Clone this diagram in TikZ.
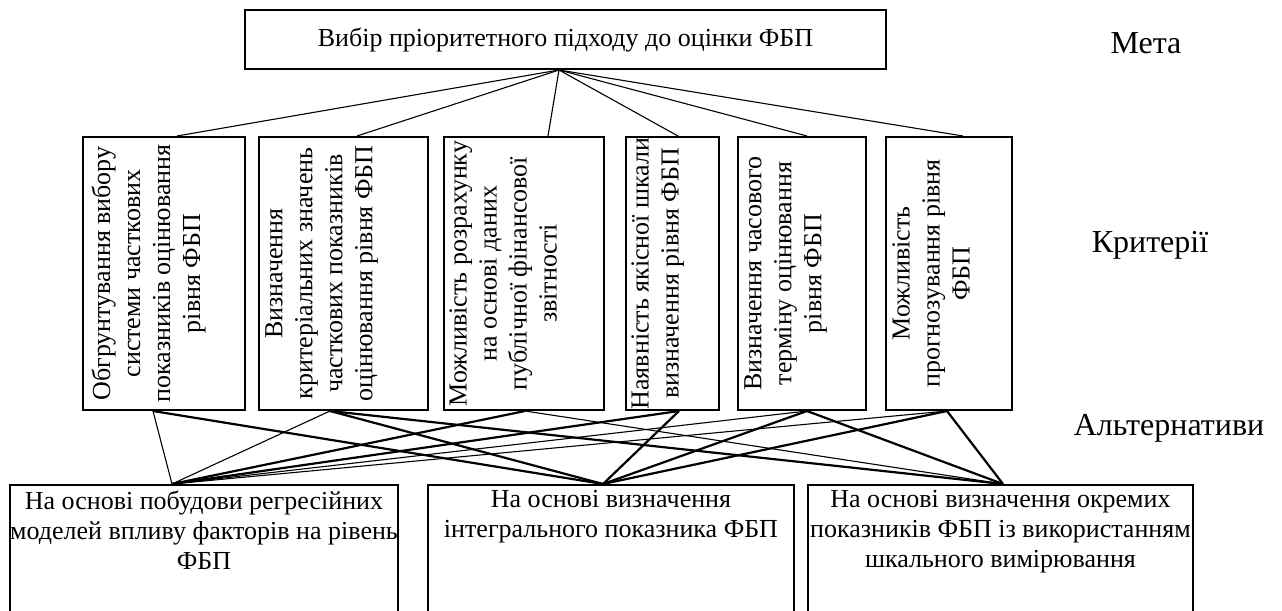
\documentclass[tikz,border=0pt]{standalone}
\usepackage{fontspec}
\setmainfont{Liberation Serif}
\begin{document}
\begin{tikzpicture}[x=0.5pt,y=-0.5pt,
  box/.style={draw, line width=1pt, inner sep=0pt},
  btxt/.style={font=\fontsize{13}{15}\selectfont, align=center, inner sep=0pt},
  lbl/.style={font=\fontsize{16}{19}\selectfont, inner sep=0pt},
  lnthin/.style={line width=0.55pt},
  lnthick/.style={line width=1.1pt}]
\useasboundingbox (0,0) rectangle (1282,611);
\clip (0,0) rectangle (1282,611);
% goal
\node[box, minimum width=320.5pt, minimum height=29.5pt, font=\fontsize{13}{15}\selectfont] (goal) at (565.5,39.5) {Вибір пріоритетного підходу до оцінки ФБП};
% criteria
\node[box, minimum width=81pt, minimum height=136.5pt] (c1) at (164,273.5) {};
\node[box, minimum width=84.5pt, minimum height=136.5pt] (c2) at (343.5,273.5) {};
\node[box, minimum width=80pt, minimum height=136.5pt] (c3) at (524,273.5) {};
\node[box, minimum width=46.5pt, minimum height=136.5pt] (c4) at (672.5,273.5) {};
\node[box, minimum width=64pt, minimum height=136.5pt] (c5) at (802,273.5) {};
\node[box, minimum width=63pt, minimum height=136.5pt] (c6) at (949,273.5) {};
\node[btxt, rotate=90, anchor=north] (t1) at ([xshift=4.5pt]c1.west) {Обгрунтування вибору\\системи часткових\\показників оцінювання\\рівня ФБП};
\node[btxt, rotate=90, anchor=north] (t2) at ([xshift=3.5pt]c2.west) {Визначення\\критеріальних значень\\часткових показників\\оцінювання рівня ФБП};
\node[btxt, rotate=90, anchor=north] (t3) at ([xshift=3pt]c3.west) {Можливість розрахунку\\на основі даних\\публічної фінансової\\звітності};
\node[btxt, rotate=90, anchor=north] (t4) at ([xshift=3pt]c4.west) {Наявність якісної шкали\\визначення рівня ФБП};
\node[btxt, rotate=90, anchor=north] (t5) at ([xshift=3.5pt]c5.west) {Визначення часового\\терміну оцінювання\\рівня ФБП};
\node[btxt, rotate=90, anchor=north] (t6) at ([xshift=3.5pt]c6.west) {Можливість\\прогнозування рівня\\ФБП};
% alternatives
\node[box, minimum width=194pt, minimum height=82.5pt] (a1) at (204,567.5) {};
\node[box, minimum width=183pt, minimum height=82.5pt] (a2) at (611,567.5) {};
\node[box, minimum width=192.5pt, minimum height=82.5pt] (a3) at (1000.5,567.5) {};
\node[btxt, anchor=north] (a1t) at ([yshift=-3pt]a1.north) {На основі побудови регресійних\\моделей впливу факторів на рівень\\ФБП};
\node[btxt, anchor=north] (a2t) at ([yshift=-3pt]a2.north) {На основі визначення\\інтегрального показника ФБП};
\node[btxt, anchor=north] (a3t) at ([yshift=-3pt]a3.north) {На основі визначення окремих\\показників ФБП із використанням\\шкального вимірювання};
% level labels
\node[lbl] (meta) at (1146,43) {Мета};
\node[lbl] (krit) at (1150,245) {Критерії};
\node[lbl] (alt) at (1169,428) {Альтернативи};
% connector points
\coordinate (gs) at ([xshift=-3.25pt]goal.south);
\coordinate (c1n) at ([xshift=6.5pt]c1.north);
\coordinate (c2n) at ([xshift=6.75pt]c2.north);
\coordinate (c3n) at ([xshift=12pt]c3.north);
\coordinate (c4n) at ([xshift=2.75pt]c4.north);
\coordinate (c5n) at ([xshift=2.5pt]c5.north);
\coordinate (c6n) at ([xshift=7pt]c6.north);
\coordinate (c1s) at ([xshift=-5.5pt]c1.south);
\coordinate (c2s) at ([xshift=-6.75pt]c2.south);
\coordinate (c3s) at ([xshift=0.5pt]c3.south);
\coordinate (c4s) at ([xshift=3.25pt]c4.south);
\coordinate (c5s) at ([xshift=2.5pt]c5.south);
\coordinate (c6s) at ([xshift=-1pt]c6.south);
\coordinate (a1n) at ([xshift=-16pt]a1.north);
\coordinate (a2n) at ([xshift=-4pt]a2.north);
\coordinate (a3n) at ([xshift=1.25pt]a3.north);
% goal to criteria
\foreach \c in {c1n,c2n,c3n,c4n,c5n,c6n} \draw[lnthin] (gs) -- (\c);
% criteria to alternatives
\draw[lnthin] (c1s) -- (a1n);
\draw[lnthin] (c2s) -- (a1n);
\draw[lnthick] (c3s) -- (a1n);
\draw[lnthick] (c4s) -- (a1n);
\draw[lnthin] (c5s) -- (a1n);
\draw[lnthin] (c6s) -- (a1n);
\draw[lnthick] (c1s) -- (a2n);
\draw[lnthick] (c2s) -- (a2n);
\draw[lnthick] (c4s) -- (a2n);
\draw[lnthick] (c5s) -- (a2n);
\draw[lnthick] (c6s) -- (a2n);
\draw[lnthick] (c2s) -- (a3n);
\draw[lnthin] (c3s) -- (a3n);
\draw[lnthick] (c5s) -- (a3n);
\draw[lnthick] (c6s) -- (a3n);
\end{tikzpicture}
\end{document}
